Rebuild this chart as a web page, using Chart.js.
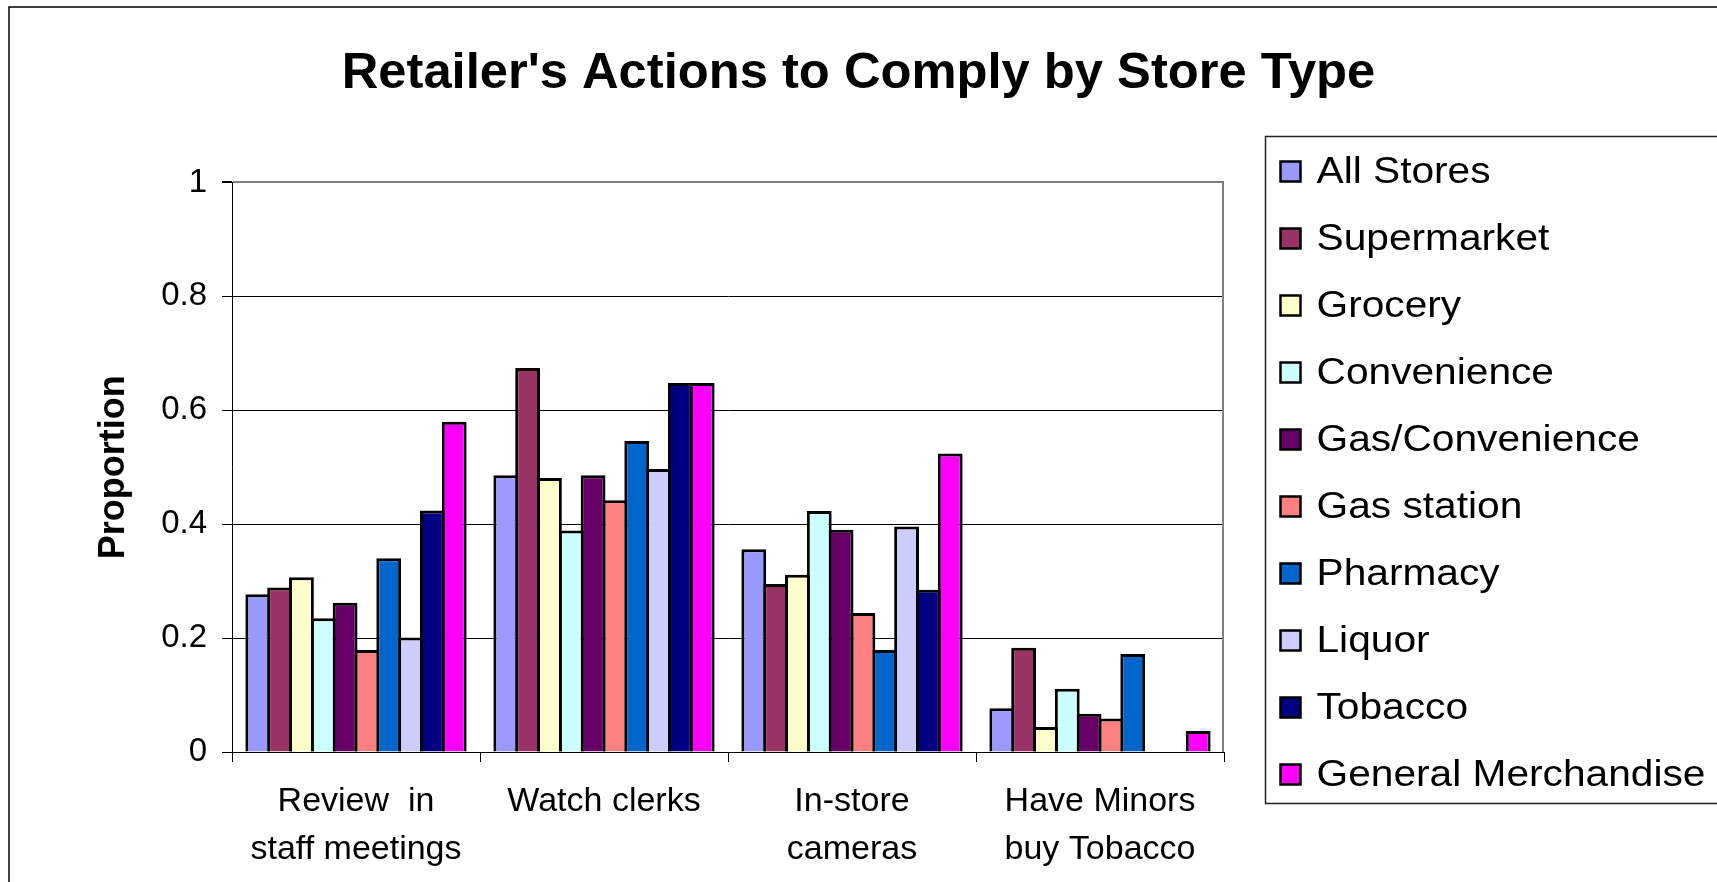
<!DOCTYPE html>
<html>
<head>
<meta charset="utf-8">
<title>Retailer's Actions to Comply by Store Type</title>
<script src="https://cdn.jsdelivr.net/npm/chart.js@4/dist/chart.umd.min.js"></script>
<style>
  html, body { margin: 0; padding: 0; background: #fff; overflow: hidden; }
  canvas { display: block; }
</style>
</head>
<body>
<canvas id="chart" width="1717" height="882"></canvas>
<script>
// Action categories (multi-line labels as arrays)
const categories = [
  ['Review  in', 'staff meetings'],
  'Watch clerks',
  ['In-store', 'cameras'],
  ['Have Minors', 'buy Tobacco']
];

// Share of retailers taking each action, by store type
const allStores          = [0.277, 0.486, 0.356, 0.077];
const supermarket        = [0.289, 0.674, 0.295, 0.183];
const grocery            = [0.307, 0.481, 0.311, 0.044];
const convenience        = [0.235, 0.389, 0.423, 0.111];
const gasConvenience     = [0.262, 0.486, 0.390, 0.067];
const gasStation         = [0.179, 0.442, 0.244, 0.059];
const pharmacy           = [0.340, 0.546, 0.179, 0.172];
const liquor             = [0.201, 0.497, 0.396, null];
const tobacco            = [0.424, 0.648, 0.285, null];
const generalMerchandise = [0.580, 0.648, 0.524, 0.037];

const seriesNames = ['All Stores', 'Supermarket', 'Grocery', 'Convenience', 'Gas/Convenience',
                     'Gas station', 'Pharmacy', 'Liquor', 'Tobacco', 'General Merchandise'];
const seriesValues = [allStores, supermarket, grocery, convenience, gasConvenience,
                      gasStation, pharmacy, liquor, tobacco, generalMerchandise];
const seriesColors = ['#9999FF', '#993366', '#FFFFCC', '#CCFFFF', '#660066',
                      '#FF8080', '#0066CC', '#CCCCFF', '#000080', '#FF00FF'];

// Y axis tick labels
const yTickLabels = ['0', '0.2', '0.4', '0.6', '0.8', '1'];

const FONT = "'Liberation Sans', Arial, Helvetica, sans-serif";

// Outer frame and grey plot-area edge
const framePlugin = {
  id: 'frame',
  beforeDraw(chart) {
    const ctx = chart.ctx;
    ctx.save();
    ctx.fillStyle = '#fff';
    ctx.fillRect(0, 0, chart.width, chart.height);
    ctx.strokeStyle = '#000';
    ctx.lineWidth = 1.5;
    ctx.strokeRect(9, 7, chart.width + 40, chart.height + 40);
    ctx.restore();
  },
  beforeDatasetsDraw(chart) {
    const { ctx, chartArea: a } = chart;
    ctx.save();
    ctx.strokeStyle = '#808080';
    ctx.lineWidth = 2;
    ctx.beginPath();
    ctx.moveTo(a.right - 1, a.top - 1);
    ctx.lineTo(a.right - 1, a.bottom);
    ctx.stroke();
    ctx.restore();
  }
};

// Boxed legend occupying its own column on the right of the layout
function drawSideLegend(chart, box) {
  const ctx = chart.ctx;
  const frameLeft = box.left + 41.5;
  const frameTop = 136.5;
  const frameBottom = 803.5;
  ctx.save();
  ctx.strokeStyle = '#222';
  ctx.lineWidth = 1.5;
  ctx.strokeRect(frameLeft, frameTop, box.right + 40 - frameLeft, frameBottom - frameTop);

  chart.data.datasets.forEach((ds, i) => {
    const cy = 171.5 + i * 67;
    const mx = frameLeft + 15;
    ctx.fillStyle = ds.backgroundColor;
    ctx.fillRect(mx, cy - 10, 20, 20);
    ctx.strokeStyle = '#000';
    ctx.lineWidth = 2.5;
    ctx.strokeRect(mx, cy - 10, 20, 20);

    ctx.save();
    ctx.translate(frameLeft + 51, cy + 11);
    ctx.scale(1.13, 1);
    ctx.fillStyle = '#000';
    ctx.font = '36px ' + FONT;
    ctx.textBaseline = 'alphabetic';
    ctx.textAlign = 'left';
    ctx.fillText(ds.label, 0, 0);
    ctx.restore();
  });
  ctx.restore();
}

const sideLegendPlugin = {
  id: 'sideLegend',
  start(chart) {
    const box = {
      position: 'right',
      weight: 10,
      fullSize: false,
      options: {},
      top: 0, left: 0, right: 0, bottom: 0, width: 0, height: 0,
      update(maxWidth, maxHeight) {
        this.width = 493;
        this.height = maxHeight;
      },
      isHorizontal() { return false; },
      getPadding() { return { top: 0, left: 0, right: 0, bottom: 0 }; },
      draw() { drawSideLegend(chart, this); }
    };
    Chart.layouts.addBox(chart, box);
  }
};

// Bars are slightly wider than their slot so neighbouring outlines share one line
const datasets = seriesNames.map((name, i) => ({
  label: name,
  data: seriesValues[i],
  backgroundColor: seriesColors[i],
  borderColor: '#000000',
  borderWidth: 3,
  borderSkipped: 'start',
  inflateAmount: 0,
  barPercentage: 1.138,
  categoryPercentage: 0.88
}));

new Chart(document.getElementById('chart'), {
  type: 'bar',
  data: { labels: categories, datasets },
  plugins: [framePlugin, sideLegendPlugin],
  options: {
    responsive: false,
    devicePixelRatio: 1,
    animation: false,
    layout: { padding: 0 },
    plugins: {
      legend: { display: false },
      tooltip: { enabled: false },
      title: {
        display: true,
        text: "Retailer's Actions to Comply by Store Type",
        color: '#000',
        font: { family: FONT, size: 50.7, weight: 'bold', lineHeight: 1.2 },
        padding: { top: 43.3, bottom: 78.3 }
      }
    },
    scales: {
      x: {
        offset: true,
        border: { display: true, color: '#000', width: 1 },
        grid: {
          display: true,
          offset: true,
          drawOnChartArea: false,
          drawTicks: true,
          tickLength: 10,
          tickColor: '#000',
          color: '#000'
        },
        ticks: {
          color: '#000',
          font: { family: FONT, size: 34, lineHeight: 1.43 },
          padding: 15,
          maxRotation: 0,
          minRotation: 0,
          autoSkip: false
        },
        afterFit(scale) { scale.height = 130; }
      },
      y: {
        min: 0,
        max: 1,
        border: { display: true, color: '#000', width: 1 },
        grid: {
          color: (c) => (c.tick && c.tick.value === 1 ? '#808080' : '#000'),
          lineWidth: (c) => (c.tick && c.tick.value === 1 ? 2 : 1),
          drawTicks: true,
          tickLength: 10,
          tickColor: '#000'
        },
        ticks: {
          stepSize: 0.2,
          color: '#000',
          padding: 15,
          font: { family: FONT, size: 33 },
          callback: (value, index) => yTickLabels[index]
        },
        title: {
          display: true,
          text: 'Proportion',
          color: '#000',
          font: { family: FONT, size: 36, weight: 'bold', lineHeight: 1.2 },
          padding: { top: 92.9, bottom: 0 }
        },
        afterFit(scale) { scale.width = 232; }
      }
    }
  }
});
</script>
</body>
</html>
